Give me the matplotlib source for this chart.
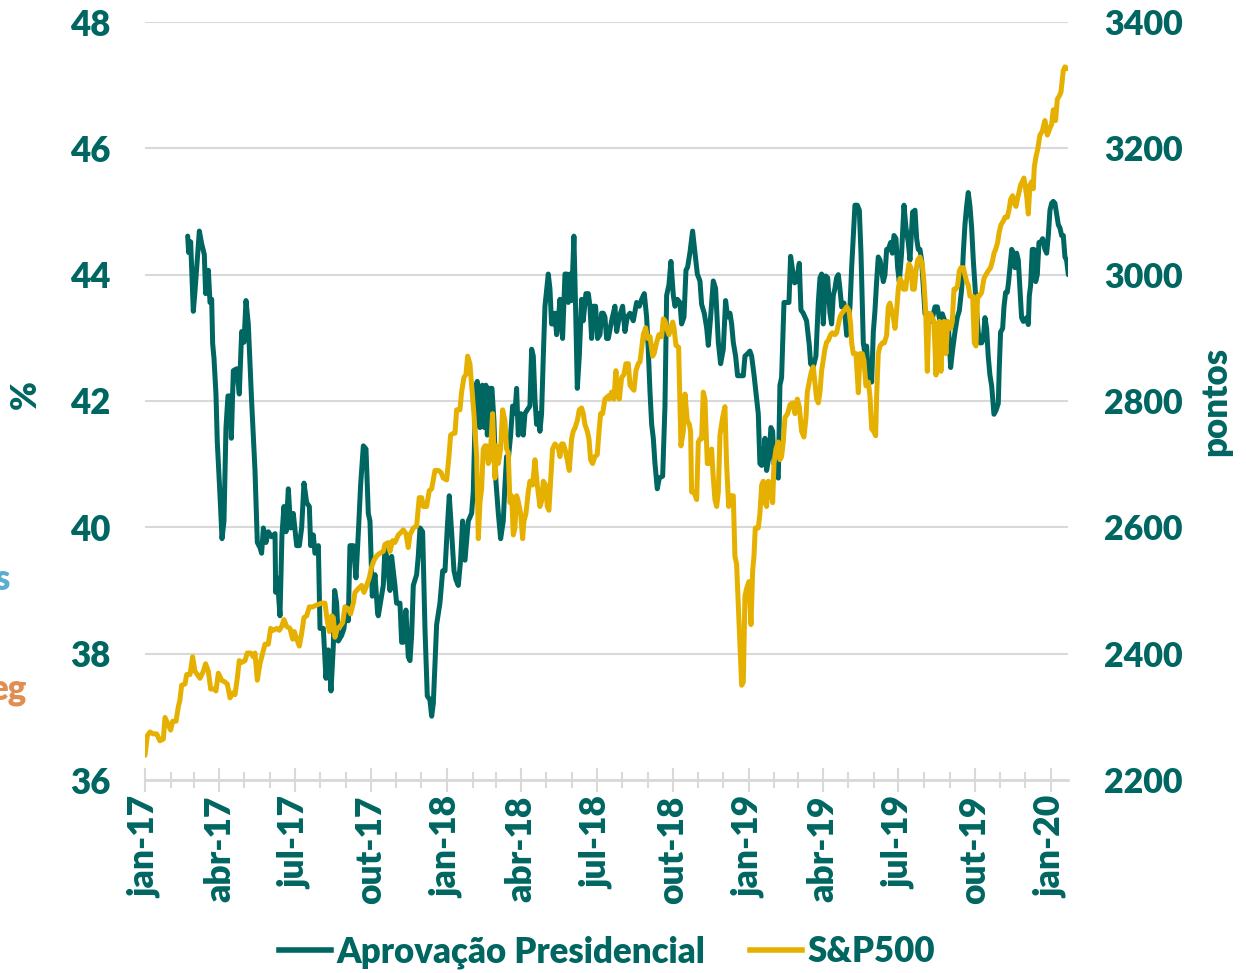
import matplotlib.pyplot as plt
import pandas as pd
from matplotlib.lines import Line2D

plt.rcParams['font.family'] = ['Lato', 'DejaVu Sans']
plt.rcParams['font.weight'] = 'heavy'

# days since 2017-01-01 and presidential approval (%)
appr_days = [
    51.6, 52.8, 55.2, 58.4, 60.4, 65.7, 68.5, 71.7, 73.3, 76.6,
    78.6, 80.6, 81.8, 83.4, 85.8, 87.4, 90.7, 93.1, 95.5, 97.9,
    100.3, 102.8, 104.4, 106.8, 110.8, 114.0, 116.9, 119.7, 122.1, 124.9,
    128.9, 133.0, 135.8, 139.0, 141.0, 143.1, 146.3, 149.1, 153.1, 157.2,
    158.0, 160.0, 163.2, 165.6, 168.0, 170.5, 173.3, 176.1, 179.3, 183.4,
    186.6, 189.4, 192.2, 195.5, 198.7, 200.3, 203.5, 205.5, 209.6, 211.6,
    215.6, 218.8, 221.6, 224.9, 227.7, 229.3, 231.7, 233.7, 237.8, 240.6,
    243.0, 245.8, 247.8, 251.9, 255.1, 257.9, 260.7, 264.0, 267.2, 270.0,
    272.0, 274.8, 278.1, 281.3,
    282.1, 288.1, 290.1, 292.2, 296.2, 298.2, 302.2, 304.2, 308.3, 310.3,
    312.3, 315.5, 318.3, 320.4, 322.4, 324.4, 328.4, 330.4, 332.5, 335.7,
    338.5, 341.3, 344.5, 346.6, 348.6, 352.6, 356.6, 359.9, 362.7, 365.5,
    367.9, 370.7, 373.6, 376.0, 378.8, 381.6, 384.0, 386.9, 390.9, 394.9,
    396.9, 400.2, 401.8, 405.0, 407.8, 410.2, 412.2, 413.9, 416.3, 419.5,
    421.9, 424.3, 427.2, 430.0, 433.2, 435.2, 437.2, 439.2, 442.1, 444.5,
    447.3, 449.3, 451.3, 454.2, 457.4, 459.4, 462.2, 465.4, 467.5, 469.5,
    471.5, 473.5, 475.5, 477.5, 479.5, 481.6, 483.6, 487.6, 489.6, 491.6,
    493.7, 495.7, 497.7, 499.7, 501.7, 504.9, 507.8, 509.8, 511.8, 513.8,
    515.8, 518.6, 520.7, 522.7, 525.1, 527.9, 529.9, 533.1, 536.0, 538.0,
    540.0, 542.0, 544.8, 547.2, 550.1, 552.1, 554.1, 556.1, 558.1,
    560.2, 564.2, 568.2, 570.3, 573.5, 577.5, 580.3, 583.1, 586.4, 590.4,
    594.4, 597.7, 600.5, 603.7, 606.5, 608.5, 610.6, 612.6, 614.6, 616.6,
    619.4, 621.8, 625.9, 628.7, 630.7, 633.5, 635.9, 638.8, 640.8, 643.6,
    646.8, 648.8, 651.7, 654.1, 656.1, 658.9, 662.1, 665.0, 667.8, 671.0,
    673.0, 676.2, 679.1, 681.1, 683.9, 687.1, 689.9, 693.2, 696.0, 699.2,
    702.0, 704.4, 707.3, 709.3, 711.3, 714.1, 716.5, 719.4, 723.4, 725.4,
    729.4, 731.4, 733.5, 736.3, 739.5, 741.5, 743.5, 745.6, 747.6, 749.6,
    751.6, 754.4, 756.8, 758.9, 760.5, 763.7, 765.7, 767.7, 769.7, 772.6,
    775.8, 778.6, 780.6, 783.0, 785.5, 787.9, 791.1, 793.1, 795.9, 799.9,
    803.2, 804.8, 808.0, 811.2, 814.1, 816.1, 818.1, 820.1, 822.9, 825.4,
    828.2, 830.2, 832.2, 834.2, 836.2,
    838.3, 840.3, 842.3, 845.1, 848.4, 850.4, 852.4, 854.4, 856.4, 858.4,
    861.2, 863.7, 865.7, 868.5, 870.5, 872.5, 874.6, 876.6, 878.6, 880.6,
    882.6, 884.6, 886.6, 888.7, 890.7, 892.7, 894.7, 896.7, 898.7, 901.6,
    903.6, 905.6, 908.0, 910.0, 912.0, 914.8, 917.7, 920.1, 922.9, 924.9,
    928.1, 931.0, 933.0, 935.0, 937.0, 939.0, 943.1, 947.1, 951.1, 955.2,
    958.0, 961.2, 964.0, 967.2, 971.3, 974.1, 976.5, 979.3, 982.1, 984.6,
    987.4, 989.4, 991.4, 993.4, 995.4, 997.5, 999.5, 1001.5, 1003.5, 1005.5,
    1007.5, 1009.6, 1011.6, 1013.6, 1015.6, 1017.6, 1019.6, 1021.6, 1023.7, 1026.5,
    1028.9, 1031.7, 1032.9, 1034.5, 1037.0, 1038.6, 1040.6, 1042.6, 1044.2, 1045.8,
    1047.9, 1049.9, 1051.9, 1053.9, 1055.9, 1057.9, 1059.9, 1062.0, 1066.0, 1068.0,
    1069.2, 1070.8, 1072.8, 1074.8, 1076.9, 1078.9, 1080.9, 1082.9, 1085.3, 1088.1,
    1090.2, 1092.2, 1094.2, 1096.2, 1098.2, 1100.2, 1102.3, 1104.3, 1106.3, 1108.3,
    1110.3, 1112.3, 1114.3, 1116.4,
]
appr_vals = [
    44.61, 44.35, 44.52, 43.42, 43.73, 44.69, 44.49, 44.32, 43.70, 44.07,
    43.56, 43.61, 42.91, 42.68, 42.11, 41.35, 40.50, 39.82, 40.10, 41.58,
    42.08, 42.08, 41.41, 42.48, 42.51, 42.11, 43.10, 42.93, 43.59, 43.22,
    42.00, 40.90, 39.76, 39.68, 39.59, 39.99, 39.76, 39.93, 39.85, 39.90,
    38.97, 39.20, 38.60, 39.88, 40.33, 39.93, 40.61, 39.99, 40.22, 39.71,
    39.71, 39.99, 40.70, 40.39, 40.33, 39.71, 39.88, 39.59, 39.71, 38.40,
    38.40, 37.61, 38.06, 37.41, 38.12, 39.00, 38.80, 38.20, 38.29, 38.40,
    38.74, 38.52, 39.71, 39.71, 39.20, 39.90, 40.67, 41.29, 41.24, 40.22,
    40.10, 38.91, 39.25, 38.63,
    38.60, 39.08, 39.67, 39.54, 39.00, 39.54, 39.08, 38.80, 38.80, 38.18,
    38.18, 38.69, 37.95, 37.89, 38.29, 39.08, 39.25, 39.54, 39.99, 39.93,
    38.40, 37.33, 37.27, 37.01, 37.21, 38.46, 38.80, 39.31, 39.31, 39.99,
    40.50, 39.93, 39.31, 39.17, 39.08, 39.48, 40.10, 39.48, 40.10, 40.22,
    40.56, 42.25, 42.31, 41.58, 42.25, 41.58, 42.25, 41.46, 42.20, 42.20,
    41.69, 40.73, 40.22, 39.82, 40.10, 40.67, 41.12, 41.07, 41.46, 41.92,
    41.80, 42.20, 41.46, 41.80, 41.46, 41.80, 41.86, 41.92, 42.82, 42.71,
    42.03, 41.63, 41.80, 41.52, 41.80, 42.71, 43.50, 44.01, 43.78, 43.22,
    43.22, 43.39, 43.05, 43.27, 43.61, 42.99, 44.01, 44.01, 43.56, 44.01,
    43.59, 44.61, 43.44, 42.20, 42.71, 43.61, 43.27, 43.70, 43.70, 43.50,
    42.99, 43.50, 43.50, 42.99, 43.05, 43.39, 43.39, 43.33, 42.99,
    42.99, 43.27, 43.50, 43.10, 43.33, 43.50, 43.10, 43.33, 43.39, 43.27,
    43.56, 43.50, 43.61, 43.70, 43.33, 42.82, 42.14, 41.63, 41.41, 41.01,
    40.61, 40.78, 40.81, 41.92, 43.67, 43.84, 44.21, 43.67, 43.50, 43.61,
    43.56, 43.22, 43.33, 44.07, 44.12, 44.35, 44.69, 44.35, 44.01, 43.90,
    43.53, 43.39, 43.16, 42.88, 43.33, 43.90, 43.78, 42.93, 42.59, 42.82,
    43.59, 43.33, 43.39, 43.22, 42.93, 42.71, 42.40, 42.40, 42.40, 42.71,
    42.76, 42.79, 42.71, 42.42, 42.03, 41.80, 41.01, 40.98, 41.01, 41.41,
    40.90, 41.12, 41.58, 41.52, 41.01, 40.84, 40.78, 42.25, 42.37, 43.56,
    43.56, 43.56, 44.29, 44.07, 43.87, 43.90, 44.18, 43.44, 43.39, 43.27,
    42.88, 42.59, 42.54, 42.71, 43.56, 43.95, 44.01, 43.22, 43.98, 43.95,
    43.39, 43.22, 43.67, 43.78, 43.95,
    44.00, 43.77, 43.49, 43.55, 43.04, 43.26, 43.49, 44.11, 44.62, 45.10,
    45.10, 45.02, 44.34, 42.92, 42.75, 42.87, 42.41, 42.30, 42.30, 43.09,
    43.43, 43.89, 44.28, 44.23, 44.06, 43.89, 44.00, 44.40, 44.40, 44.51,
    44.34, 44.62, 44.57, 44.11, 43.89, 44.34, 45.10, 44.74, 44.51, 44.23,
    44.99, 45.02, 44.57, 44.40, 44.40, 44.23, 43.38, 43.38, 43.26, 43.49,
    43.49, 43.26, 43.38, 43.26, 43.21, 42.53, 42.81, 43.09, 43.32, 43.43,
    43.77, 44.34, 44.79, 45.08, 45.30, 45.08, 44.74, 44.23, 43.83, 43.43,
    43.09, 42.92, 42.92, 42.98, 43.32, 43.15, 42.70, 42.41, 42.24, 41.79,
    41.85, 41.96, 42.53, 43.09, 43.15, 43.49, 43.72, 43.72, 43.89, 44.11,
    44.40, 44.34, 44.11, 44.34, 44.23, 43.77, 43.32, 43.26, 43.32, 43.21,
    43.66, 43.83, 44.40, 44.40, 43.89, 44.00, 44.51, 44.51, 44.57, 44.40,
    44.34, 44.62, 45.02, 45.13, 45.16, 45.13, 44.96, 44.79, 44.74, 44.62,
    44.62, 44.28, 44.23, 44.00,
]

# days since 2017-01-01 and S&P500 (points)
sp_days = [
    0.0, 2.8, 6.0, 10.1, 14.1, 18.1, 22.2, 24.2, 28.2, 31.0,
    33.4, 37.5, 40.3, 42.3, 44.3, 48.4, 50.4, 54.4, 57.6, 60.4,
    63.3, 66.5, 70.5, 73.3, 76.6, 79.4, 83.4, 85.8, 88.7, 92.7,
    96.7, 99.5, 102.8, 106.0, 108.8, 111.6, 114.0, 116.9, 120.9, 123.7,
    127.7, 131.0, 133.0, 135.8, 139.0, 142.3, 145.1, 149.1, 151.9, 155.2,
    159.2, 162.4, 165.2, 168.0, 171.3, 175.3, 178.5, 180.5, 183.4, 186.6,
    189.4, 192.2, 195.5, 198.7, 202.7, 207.5, 213.6, 217.6, 220.4, 222.9,
    225.7, 227.7, 229.7, 232.5, 235.7, 239.0, 241.8, 245.8, 248.6, 251.9,
    253.9, 257.9, 261.9, 264.8, 268.0, 271.2, 274.0, 276.9, 280.9,
    284.1, 288.1, 290.1, 294.2, 296.2, 299.4, 302.2, 306.3, 310.3, 312.3,
    315.5, 318.3, 320.4, 324.4, 328.4, 331.6, 334.5, 336.5, 340.5, 343.7,
    346.6, 350.6, 354.6, 357.8, 360.7, 364.7, 367.5, 369.5, 372.8, 374.8,
    376.8, 380.8, 382.8, 385.6, 388.1, 390.1, 392.9, 394.9, 397.7, 401.0,
    403.0, 405.0, 407.0, 409.0, 411.0, 413.1, 415.1, 417.1, 420.3, 423.1,
    425.1, 427.2, 430.0, 432.4, 435.2, 437.2, 439.2, 441.3, 443.3, 445.3,
    447.3, 449.3, 451.3, 454.2, 456.6, 458.2, 460.6, 463.4, 465.4, 468.7,
    471.5, 474.3, 477.5, 479.5, 481.6, 484.4, 486.4, 488.4, 490.4, 492.8,
    495.7, 497.7, 499.7, 501.7, 503.7, 505.7, 507.8, 509.8, 513.0, 515.8,
    517.8, 519.8, 522.7, 525.1, 527.9, 529.9, 531.9, 534.8, 536.8, 538.8,
    541.2, 544.0, 546.8, 549.3, 550.9, 553.3, 556.1, 560.2,
    561.4, 564.2, 567.0, 569.4, 571.1, 573.5, 576.3, 579.1, 581.5, 584.4,
    586.4, 589.2, 591.2, 593.6, 596.4, 598.5, 602.5, 605.3, 607.7, 610.6,
    613.8, 615.8, 618.6, 621.4, 624.7, 626.7, 628.7, 630.7, 633.5, 635.5,
    638.0, 639.6, 642.0, 645.2, 646.8, 648.0, 650.9, 652.9, 655.7, 658.1,
    659.7, 660.9, 663.7, 667.0, 669.0, 671.0, 673.0, 675.0, 677.0, 679.9,
    682.3, 685.1, 687.1, 689.1, 691.2, 693.2, 695.2, 698.4, 701.2, 703.2,
    705.7, 708.1, 711.3, 713.3, 715.3, 717.3, 719.4, 721.4, 723.4, 725.4,
    727.4, 730.2, 732.7, 734.7, 736.3, 737.9, 741.5, 743.5, 745.6, 747.6,
    749.6, 751.6, 753.6, 756.4, 758.9, 760.5, 762.9, 765.7, 767.7, 769.7,
    771.7, 773.8, 777.0, 779.8, 783.0, 785.9, 788.7, 791.1, 793.9, 796.7,
    799.2, 800.8, 803.2, 806.0, 808.0, 812.1, 814.1, 816.1, 818.1, 820.1,
    822.1, 824.1, 826.2, 829.0, 831.0, 834.2, 836.2, 840.3,
    842.3, 845.1, 848.4, 851.2, 853.2, 854.4, 856.4, 859.6, 862.5, 864.5,
    867.3, 869.3, 871.7, 874.6, 876.6, 878.6, 881.4, 883.4, 884.6, 886.6,
    888.7, 891.5, 893.9, 896.7, 898.7, 900.7, 902.8, 904.8, 906.8, 908.8,
    910.8, 912.8, 914.8, 916.9, 919.7, 921.7, 923.7, 926.1, 928.1, 930.2,
    932.2, 934.2, 937.0, 939.8, 941.8, 943.9, 945.9, 947.9, 949.9, 953.9,
    956.4, 958.0, 960.4, 962.4, 964.4, 966.0, 968.4, 970.5, 972.1, 974.1,
    976.1, 978.1, 980.5, 982.5, 984.6, 986.6, 989.4, 991.4, 993.4, 995.4,
    997.5, 1000.7, 1002.7, 1004.7, 1006.7, 1008.7, 1011.6, 1014.4, 1016.8, 1019.6,
    1022.4, 1024.9, 1026.5, 1028.5, 1030.9, 1032.9, 1035.0, 1037.8, 1039.8, 1042.6,
    1044.6, 1046.6, 1049.0, 1051.1, 1053.1, 1054.7, 1056.7, 1058.7, 1060.7, 1062.7,
    1066.0, 1068.0, 1070.0, 1072.0, 1074.0, 1075.2, 1077.3, 1079.3, 1082.1, 1084.9,
    1088.1, 1091.0, 1094.2, 1096.2, 1098.2, 1101.0, 1103.1, 1105.5, 1107.5, 1110.3,
    1112.3, 1115.2,
]
sp_vals = [
    2239, 2270, 2276, 2273, 2273, 2262, 2265, 2299, 2287, 2279,
    2293, 2293, 2316, 2327, 2350, 2352, 2367, 2367, 2395, 2372,
    2367, 2361, 2372, 2384, 2372, 2344, 2344, 2341, 2369, 2358,
    2355, 2352, 2330, 2338, 2335, 2361, 2389, 2386, 2389, 2401,
    2401, 2395, 2401, 2358, 2384, 2401, 2415, 2415, 2440, 2437,
    2440, 2437, 2443, 2454, 2443, 2440, 2423, 2435, 2423, 2412,
    2432, 2457, 2460, 2474, 2474, 2477, 2480, 2480, 2452, 2435,
    2460, 2457, 2426, 2440, 2443, 2449, 2474, 2471, 2463, 2480,
    2497, 2503, 2508, 2497, 2508, 2520, 2537, 2548, 2556,
    2559, 2562, 2573, 2576, 2562, 2579, 2576, 2588, 2593, 2596,
    2590, 2568, 2588, 2599, 2602, 2647, 2647, 2633, 2633, 2658,
    2661, 2690, 2690, 2687, 2678, 2675, 2712, 2746, 2749, 2749,
    2786, 2786, 2814, 2837, 2842, 2871, 2859, 2825, 2780, 2712,
    2582, 2639, 2661, 2724, 2729, 2729, 2701, 2707, 2780, 2678,
    2729, 2701, 2724, 2786, 2769, 2724, 2718, 2639, 2650, 2588,
    2599, 2650, 2641, 2622, 2582, 2610, 2622, 2656, 2673, 2667,
    2707, 2667, 2633, 2641, 2673, 2667, 2633, 2627, 2673, 2724,
    2732, 2729, 2726, 2712, 2732, 2732, 2724, 2712, 2690, 2740,
    2752, 2757, 2769, 2786, 2789, 2780, 2763, 2752, 2740, 2707,
    2701, 2712, 2715, 2757, 2780, 2780, 2803, 2808,
    2803, 2814, 2803, 2848, 2814, 2803, 2837, 2842, 2859, 2859,
    2825, 2820, 2817, 2848, 2859, 2862, 2905, 2916, 2899, 2902,
    2871, 2876, 2893, 2905, 2902, 2930, 2927, 2916, 2905, 2916,
    2925, 2916, 2888, 2885, 2797, 2729, 2752, 2811, 2769, 2763,
    2752, 2656, 2656, 2644, 2735, 2740, 2740, 2814, 2803, 2701,
    2701, 2724, 2678, 2644, 2633, 2656, 2746, 2774, 2791, 2701,
    2633, 2650, 2650, 2554, 2542, 2480, 2412, 2350, 2355, 2491,
    2503, 2514, 2446, 2531, 2554, 2599, 2599, 2622, 2667, 2673,
    2639, 2633, 2673, 2667, 2639, 2701, 2724, 2735, 2707, 2712,
    2735, 2774, 2780, 2794, 2797, 2780, 2803, 2791, 2752, 2743,
    2774, 2814, 2831, 2848, 2854, 2803, 2797, 2814, 2848, 2865,
    2882, 2893, 2896, 2905, 2908, 2905, 2908, 2933,
    2938, 2943, 2949, 2943, 2921, 2892, 2875, 2875, 2813, 2875,
    2875, 2864, 2824, 2830, 2807, 2756, 2751, 2745, 2807, 2875,
    2887, 2892, 2892, 2904, 2949, 2955, 2943, 2932, 2915, 2943,
    2977, 2994, 2989, 2977, 2977, 3000, 3017, 3011, 2977, 2977,
    3006, 3023, 3028, 3017, 2989, 2943, 2847, 2938, 2938, 2926,
    2841, 2921, 2926, 2847, 2921, 2926, 2875, 2926, 2921, 2915,
    2926, 2977, 2977, 2983, 3006, 3011, 3011, 3000, 2989, 2983,
    2966, 2966, 2892, 2887, 2966, 2966, 2972, 2994, 3000, 3006,
    3011, 3023, 3034, 3040, 3051, 3068, 3079, 3085, 3091, 3091,
    3102, 3119, 3125, 3113, 3108, 3119, 3130, 3142, 3147, 3153,
    3125, 3096, 3142, 3147, 3136, 3170, 3187, 3198, 3221, 3227,
    3244, 3221, 3232, 3238, 3261, 3244, 3278, 3283, 3289, 3323,
    3329, 3326,
]

tick_labels = ['jan-17', 'abr-17', 'jul-17', 'out-17', 'jan-18', 'abr-18', 'jul-18',
               'out-18', 'jan-19', 'abr-19', 'jul-19', 'out-19', 'jan-20']

teal = '#006661'
gold = '#E6B000'
light = '#D9D9D9'
fs = 25

base = pd.Timestamp('2017-01-01')
appr_x = base + pd.to_timedelta(appr_days, unit='D')
sp_x = base + pd.to_timedelta(sp_days, unit='D')

W, H = 1246, 973
fig = plt.figure(figsize=(W / 100, H / 100), dpi=100)
ax = fig.add_axes([145 / W, 1 - 780 / H, (1068 - 145) / W, (780 - 22) / H])
ax2 = ax.twinx()

ax.plot(appr_x, appr_vals, color=teal, lw=3.6, solid_joinstyle='round', solid_capstyle='round')
ax2.plot(sp_x, sp_vals, color=gold, lw=3.6, solid_joinstyle='round', solid_capstyle='round')

ax.set_xlim(base, base + pd.Timedelta(days=1116))
ax.set_ylim(36, 48)
ax2.set_ylim(2200, 3400)
ax.set_yticks(range(36, 49, 2))
ax2.set_yticks(range(2200, 3401, 200))
ax.grid(axis='y', color=light, lw=1.5)
ax.set_axisbelow(True)

major = pd.date_range('2017-01-01', '2020-01-01', freq='QS')
minor = pd.date_range('2017-01-01', '2020-01-01', freq='MS')
ax.set_xticks(major)
ax.set_xticklabels(tick_labels)
ax.set_xticks(minor, minor=True)

for a in (ax, ax2):
    for s in ('left', 'right', 'top'):
        a.spines[s].set_visible(False)
ax2.spines['bottom'].set_visible(False)
ax.spines['bottom'].set_color(light)
ax.spines['bottom'].set_linewidth(2)

ax.tick_params(axis='x', which='major', direction='inout', length=17, width=1.5,
               color=light, labelrotation=90, labelsize=fs + 0.5, labelcolor=teal, pad=3)
ax.tick_params(axis='x', which='minor', direction='inout', length=12, width=1.5, color=light)
ax.tick_params(axis='y', length=0, pad=25, labelsize=fs, labelcolor=teal)
ax2.tick_params(axis='y', length=0, pad=26, labelsize=fs - 0.5, labelcolor=teal)

fig.text(25 / W, 1 - 395 / H, '%', rotation=90, ha='center', va='center',
         fontsize=fs, color=teal)
fig.text(1216 / W, 1 - 401 / H, 'pontos', rotation=90, ha='center', va='center',
         fontsize=fs, color=teal)

# bits of text cut off at the left edge of the source image
fig.text(10 / W, 1 - 579 / H, 's', ha='right', va='center', fontsize=fs, color='#3E9FCB', alpha=0.85)
fig.text(26 / W, 1 - 690 / H, 'eg', ha='right', va='center', fontsize=fs, color='#DA7B33', alpha=0.85)

handles = [Line2D([], [], color=teal, lw=4), Line2D([], [], color=gold, lw=4)]
fig.legend(handles, ['Aprovação Presidencial', 'S&P500'], loc='center',
           bbox_to_anchor=(607 / W, 1 - 952 / H), ncol=2, frameon=False,
           handlelength=1.5, handletextpad=0.15, columnspacing=1.3,
           prop={'size': fs, 'weight': 'heavy'}, labelcolor=teal)

fig.savefig('out.png', dpi=100)
